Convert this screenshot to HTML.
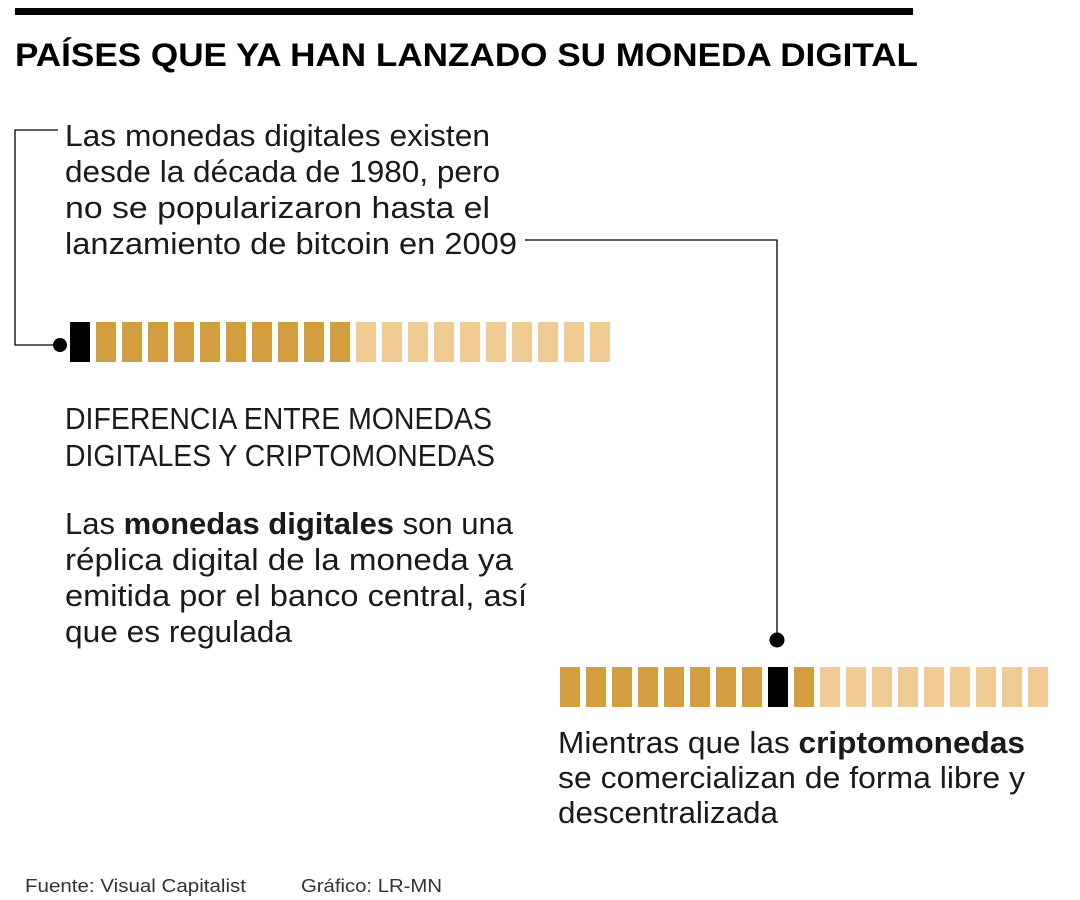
<!DOCTYPE html>
<html><head><meta charset="utf-8"><style>
html,body{margin:0;padding:0;background:#fff;}
svg{display:block;font-family:"Liberation Sans",sans-serif;}
.t{font-size:31px;fill:#1a1a1a;}
</style></head><body>
<svg id="chart" width="1080" height="900" viewBox="0 0 1080 900">
<rect x="15" y="8" width="898" height="7" fill="#000"/>
<text x="15" y="66" font-size="32" font-weight="bold" fill="#000" textLength="903" lengthAdjust="spacingAndGlyphs">PAÍSES QUE YA HAN LANZADO SU MONEDA DIGITAL</text>
<g class="t">
<text x="65" y="146" class="t" textLength="425" lengthAdjust="spacingAndGlyphs">Las monedas digitales existen</text>
<text x="65" y="182" class="t" textLength="435" lengthAdjust="spacingAndGlyphs">desde la década de 1980, pero</text>
<text x="65" y="218" class="t" textLength="425" lengthAdjust="spacingAndGlyphs">no se popularizaron hasta el</text>
<text x="65" y="254" class="t" textLength="452" lengthAdjust="spacingAndGlyphs">lanzamiento de bitcoin en 2009</text>
</g>
<polyline points="58,130 15,130 15,345 60,345" fill="none" stroke="#000" stroke-width="1.3"/>
<polyline points="525,240 777,240 777,640" fill="none" stroke="#000" stroke-width="1.3"/>
<circle cx="60" cy="345" r="7" fill="#000"/>
<circle cx="777" cy="640" r="7.5" fill="#000"/>
<g id="row1"></g>
<g id="row2"></g>
<g>
<text x="65" y="429" class="t" textLength="427" lengthAdjust="spacingAndGlyphs">DIFERENCIA ENTRE MONEDAS</text>
<text x="65" y="466" class="t" textLength="430" lengthAdjust="spacingAndGlyphs">DIGITALES Y CRIPTOMONEDAS</text>
</g>
<g>
<text x="65" y="534" class="t" textLength="448" lengthAdjust="spacingAndGlyphs">Las <tspan font-weight="bold">monedas digitales</tspan> son una</text>
<text x="65" y="570" class="t" textLength="448" lengthAdjust="spacingAndGlyphs">réplica digital de la moneda ya</text>
<text x="65" y="606" class="t" textLength="462" lengthAdjust="spacingAndGlyphs">emitida por el banco central, así</text>
<text x="65" y="642" class="t" textLength="227" lengthAdjust="spacingAndGlyphs">que es regulada</text>
</g>
<g>
<text x="558" y="753" class="t" textLength="467" lengthAdjust="spacingAndGlyphs">Mientras que las <tspan font-weight="bold">criptomonedas</tspan></text>
<text x="558" y="788" class="t" textLength="467" lengthAdjust="spacingAndGlyphs">se comercializan de forma libre y</text>
<text x="558" y="823" class="t" textLength="220" lengthAdjust="spacingAndGlyphs">descentralizada</text>
</g>
<text x="25" y="892" font-size="18" fill="#333" textLength="221" lengthAdjust="spacingAndGlyphs">Fuente: Visual Capitalist</text>
<text x="301" y="892" font-size="18" fill="#333" textLength="141" lengthAdjust="spacingAndGlyphs">Gráfico: LR-MN</text>
</svg>
<script>
// 0 = black (highlight), 1 = dark gold, 2 = light gold
const row1Kinds = [0,1,1,1,1,1,1,1,1,1,1,2,2,2,2,2,2,2,2,2,2];
const row2Kinds = [1,1,1,1,1,1,1,1,0,1,2,2,2,2,2,2,2,2,2];
const colors = ['#000000','#d39e3f','#f0cb93'];
const NS='http://www.w3.org/2000/svg';
function draw(gid, kinds, x0, y0){
  const g=document.getElementById(gid);
  kinds.forEach((k,i)=>{
    const r=document.createElementNS(NS,'rect');
    r.setAttribute('x', x0+i*26);
    r.setAttribute('y', y0);
    r.setAttribute('width', 20);
    r.setAttribute('height', 40);
    r.setAttribute('fill', colors[k]);
    
    
    g.appendChild(r);
  });
}
draw('row1', row1Kinds, 70, 322);
draw('row2', row2Kinds, 560, 667);
</script>
</body></html>
